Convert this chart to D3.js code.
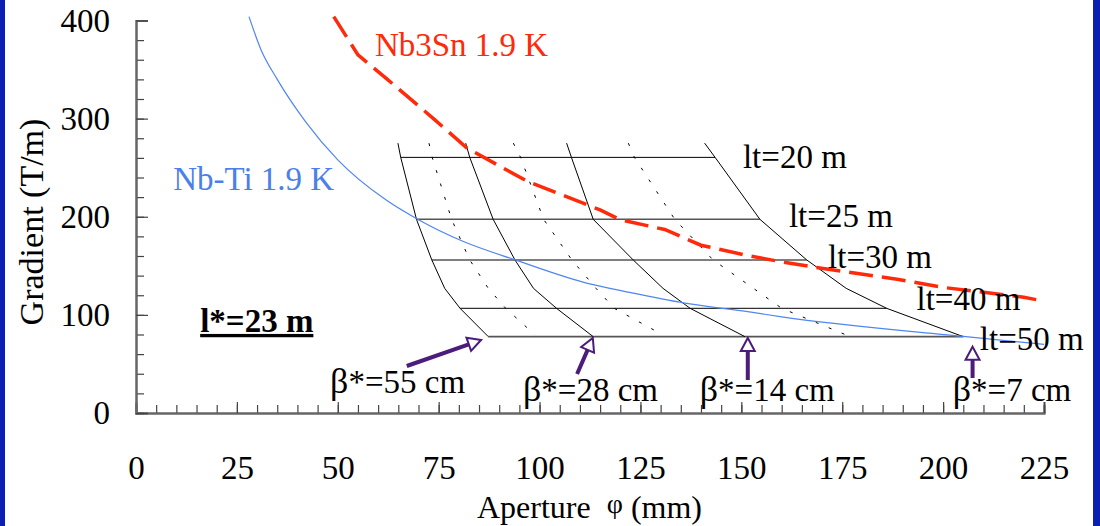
<!DOCTYPE html>
<html>
<head>
<meta charset="utf-8">
<script src="https://cdn.jsdelivr.net/npm/d3@7"></script>
<style>
  body { margin: 0; background: #fff; }
  svg text { font-family: "Liberation Serif", "Times New Roman", serif; }
</style>
</head>
<body>
<div class="svg-container"></div>
<script>
// Nb-Ti 1.9 K limit curve (aperture mm, gradient T/m)
const nbTiAperture = [28, 31, 35, 42, 50, 62, 70, 81, 94, 113, 121, 136, 152, 160, 205, 225];
const nbTiGradient = [404, 370, 340, 297, 258, 217, 197, 175, 156, 131, 124, 112, 103, 98, 78, 70];

// Nb3Sn 1.9 K limit curve
const nb3SnAperture = [49, 55, 62, 74, 82, 97, 115, 120, 131, 140, 151, 160, 169, 189, 200, 220, 225];
const nb3SnGradient = [404, 365, 341, 299, 270, 236, 207, 197, 187, 171, 161, 154, 148, 136, 128, 118, 114];

// lt levels: horizontal lines
const ltLabels = ['lt=20 m', 'lt=25 m', 'lt=30 m', 'lt=40 m', 'lt=50 m'];
const ltGradient = [260.5, 197.4, 156, 106.7, 77.8];
const ltLabelAperture = [150.4, 161.8, 171.5, 193.4, 209.1];
const ltLabelGradient = [249.7, 190, 147.8, 105, 64.2];

// beta* curves: gradient levels and aperture at each level
const betaGradient = [275, 260.5, 197.4, 156, 127, 106.7, 77.8];
const betaLabels = ['β*=55 cm', 'β*=28 cm', 'β*=14 cm', 'β*=7 cm'];
const betaAperture = [
  [64.9, 65.6, 69.5, 73.3, 76.5, 80.3, 87.3],
  [81.7, 82.7, 88.5, 93.9, 98.5, 104.2, 113.3],
  [106.7, 107.9, 113.3, 123.2, 130.6, 137.3, 150.9],
  [140.9, 143.5, 154.6, 166.2, 176, 186, 205]
];
const betaLabelAperture = [48.1, 95.9, 139.7, 202.4];
const betaLabelGradient = [20.4, 12.2, 12.2, 12.2];
// arrows: [tailAperture, tailGradient, tipAperture, tipGradient]
const betaArrows = [
  [67.1, 47.9, 85.5, 74.4],
  [109.3, 39.8, 113.2, 76.5],
  [151.6, 33.6, 151.6, 76.5],
  [207.3, 35.7, 207.3, 67.6]
];

// intermediate (dotted) beta* curves
const dottedGradient = [275, 260.5, 197.4, 156, 127, 106.7, 79.5];
const dottedAperture = [
  [72.6, 73.4, 78.2, 82.7, 87.3, 91.6, 98.9],
  [93.5, 95.3, 101, 108, 114, 118.5, 130.6],
  [122, 123.5, 133.5, 143, 153, 160, 176]
];

const xTicks = [0, 25, 50, 75, 100, 125, 150, 175, 200, 225];
const yTicks = [0, 100, 200, 300, 400];

const width = 1100;
const height = 526;

const svg = d3.select('.svg-container')
  .append('svg')
  .attr('width', width)
  .attr('height', height);

// blue slide border
svg.append('rect').attr('x', 0).attr('y', 0).attr('width', 5).attr('height', height).style('fill', '#0b1fb2');
svg.append('rect').attr('x', 1093).attr('y', 0).attr('width', 7).attr('height', height).style('fill', '#0b1fb2');

const x = d3.scaleLinear().domain([0, 225]).range([136, 1044]);
const y = d3.scaleLinear().domain([0, 400]).range([413, 20.5]);

// axes
const xMinor = d3.axisBottom(x).tickValues(d3.range(0, 226, 5)).tickSize(-8).tickFormat('');
const xMajor = d3.axisBottom(x).tickValues(xTicks).tickSize(-11).tickPadding(43);
const yMinor = d3.axisLeft(y).tickValues(d3.range(0, 401, 20)).tickSize(-8).tickFormat('');
const yMajor = d3.axisLeft(y).tickValues(yTicks).tickSize(-12).tickPadding(26);

[xMinor, xMajor].forEach(a => {
  svg.append('g').attr('transform', `translate(0,${y(0)})`).call(a);
});
[yMinor, yMajor].forEach(a => {
  svg.append('g').attr('transform', `translate(${x(0)},0)`).call(a);
});
svg.selectAll('.domain').attr('stroke', '#666').attr('stroke-width', 2);
svg.selectAll('.tick line').attr('stroke', '#444').attr('stroke-width', 1.2);
svg.selectAll('.tick text').style('font-size', '33px').attr('fill', '#000');

// axis titles
svg.append('text')
  .attr('transform', `translate(43,${222}) rotate(-90)`)
  .attr('text-anchor', 'middle')
  .style('font-size', '34px')
  .text('Gradient (T/m)');

const xTitle = svg.append('text')
  .attr('x', 477)
  .attr('y', 518)
  .style('font-size', '32px');
xTitle.append('tspan').text('Aperture ');
xTitle.append('tspan').style('font-size', '28px').attr('dx', 8).attr('dy', -5).text('φ');
xTitle.append('tspan').attr('dy', 5).text(' (mm)');

const line = d3.line().x(d => x(d[0])).y(d => y(d[1]));
const smooth = d3.line().x(d => x(d[0])).y(d => y(d[1])).curve(d3.curveMonotoneX);

// lt horizontal lines, from first beta* curve to last
ltGradient.forEach((g, i) => {
  const idx = betaGradient.indexOf(g);
  svg.append('path')
    .attr('d', line([[betaAperture[0][idx], g], [betaAperture[3][idx], g]]))
    .attr('fill', 'none')
    .attr('stroke', i === 0 || i === 3 ? '#000' : '#555')
    .attr('stroke-width', i === 0 || i === 3 ? 1 : 1.6);
});

// dotted beta* curves
dottedAperture.forEach(ap => {
  svg.append('path')
    .attr('d', line(ap.map((a, i) => [a, dottedGradient[i]])))
    .attr('fill', 'none')
    .attr('stroke', '#000')
    .attr('stroke-width', 1)
    .attr('stroke-dasharray', '3,11');
});

// solid beta* curves
betaAperture.forEach(ap => {
  svg.append('path')
    .attr('d', line(ap.map((a, i) => [a, betaGradient[i]])))
    .attr('fill', 'none')
    .attr('stroke', '#000')
    .attr('stroke-width', 1);
});

// Nb-Ti curve
svg.append('path')
  .attr('d', smooth(nbTiAperture.map((a, i) => [a, nbTiGradient[i]])))
  .attr('fill', 'none')
  .attr('stroke', '#4f86f2')
  .attr('stroke-width', 1.2);

// Nb3Sn curve
svg.append('path')
  .attr('d', line(nb3SnAperture.map((a, i) => [a, nb3SnGradient[i]])))
  .attr('fill', 'none')
  .attr('stroke', '#ff2a0a')
  .attr('stroke-width', 3.5)
  .attr('stroke-dasharray', '24,9');

// curve labels
svg.append('text')
  .attr('x', x(59.2)).attr('y', y(363.5))
  .style('font-size', '33px').attr('fill', '#ff2a0a')
  .text('Nb3Sn 1.9 K');

svg.append('text')
  .attr('x', x(9.2)).attr('y', y(227.3))
  .style('font-size', '33px').attr('fill', '#4a7fec')
  .text('Nb-Ti 1.9 K');

svg.append('text')
  .attr('x', x(15.9)).attr('y', y(82.6))
  .style('font-size', '33px').style('font-weight', 'bold')
  .attr('text-decoration', 'underline')
  .text('l*=23 m');

// lt labels
ltLabels.forEach((t, i) => {
  svg.append('text')
    .attr('x', x(ltLabelAperture[i])).attr('y', y(ltLabelGradient[i]))
    .style('font-size', '33px')
    .text(t);
});

// beta* arrows and labels
const purple = '#4b1c7c';
betaArrows.forEach(([ta, tg, pa, pg]) => {
  const x0 = x(ta), y0 = y(tg), x1 = x(pa), y1 = y(pg);
  const ang = Math.atan2(y1 - y0, x1 - x0);
  const headLen = 13, headW = 7;
  const bx = x1 - headLen * Math.cos(ang), by = y1 - headLen * Math.sin(ang);
  const nx = -Math.sin(ang), ny = Math.cos(ang);
  svg.append('line')
    .attr('x1', x0).attr('y1', y0).attr('x2', bx).attr('y2', by)
    .attr('stroke', purple).attr('stroke-width', 4);
  svg.append('polygon')
    .attr('points', [[x1, y1], [bx + nx * headW, by + ny * headW], [bx - nx * headW, by - ny * headW]].map(p => p.join(',')).join(' '))
    .attr('fill', '#fff')
    .attr('stroke', purple)
    .attr('stroke-width', 2);
});

betaLabels.forEach((t, i) => {
  const txt = svg.append('text')
    .attr('x', x(betaLabelAperture[i])).attr('y', y(betaLabelGradient[i]))
    .style('font-size', '33px');
  txt.append('tspan').style('font-size', '36px').text(t.slice(0, 1));
  txt.append('tspan').text(t.slice(1));
});
</script>
</body>
</html>
